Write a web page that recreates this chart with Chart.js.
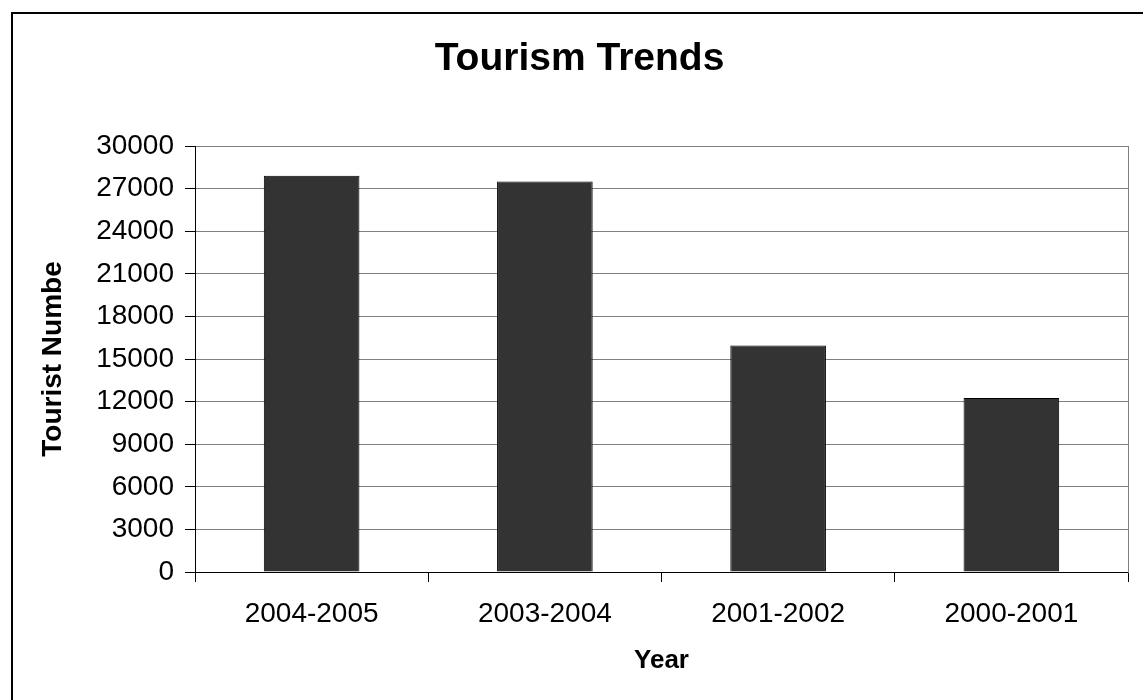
<!DOCTYPE html>
<html>
<head>
<meta charset="utf-8">
<script src="https://cdn.jsdelivr.net/npm/chart.js@4"></script>
<style>
  html, body { margin: 0; padding: 0; background: #fff; overflow: hidden; }
  #wrap { position: relative; width: 1143px; height: 700px; }
  #frame { position: absolute; left: 11px; top: 12px; width: 2000px; height: 2000px;
           border-top: 2px solid #000; border-left: 2px solid #000; box-sizing: border-box; }
  canvas { position: absolute; left: 0; top: 0; }
</style>
</head>
<body>
<div id="wrap">
  <div id="frame"></div>
  <canvas id="c" width="1143" height="700"></canvas>
</div>
<script>
const chartTitle = 'Tourism Trends';
const xTitle = 'Year';
const yTitle = 'Tourist Numbe';
const categories = ['2004-2005', '2003-2004', '2001-2002', '2000-2001'];
const touristNumbers = [27900, 27500, 15950, 12250];
const yMin = 0;
const yMax = 30000;
const yStep = 3000;

const FONT = '"Liberation Sans", Arial, sans-serif';

new Chart(document.getElementById('c'), {
  type: 'bar',
  data: {
    labels: categories,
    datasets: [{
      label: yTitle,
      data: touristNumbers,
      backgroundColor: '#333333',
      borderColor: '#000000',
      borderWidth: 1,
      barPercentage: 0.41,
      categoryPercentage: 1.0
    }]
  },
  options: {
    responsive: false,
    animation: false,
    devicePixelRatio: 1,
    layout: { padding: { left: 16, right: 0, top: 0, bottom: 0 } },
    plugins: {
      legend: { display: false },
      tooltip: { enabled: false },
      title: {
        display: true,
        text: chartTitle,
        color: '#000',
        font: { family: FONT, size: 39, weight: 'bold', lineHeight: 1.2 },
        padding: { top: 36, bottom: 63.2 }
      }
    },
    scales: {
      x: {
        grid: {
          offset: true,
          drawOnChartArea: false,
          drawTicks: true,
          tickLength: 10,
          tickColor: '#000',
          color: '#000'
        },
        border: { display: true, color: '#000', width: 1 },
        ticks: {
          color: '#000',
          padding: 15,
          maxRotation: 0,
          font: { family: FONT, size: 28 }
        },
        title: {
          display: true,
          text: xTitle,
          color: '#000',
          font: { family: FONT, size: 26, weight: 'bold', lineHeight: 1.2 },
          padding: { top: 0, bottom: 24 }
        },
        afterFit: (s) => { s.height = 128; }
      },
      y: {
        min: yMin,
        max: yMax,
        grid: {
          color: '#808080',
          tickColor: '#000',
          tickLength: 10,
          drawTicks: true
        },
        border: { display: true, color: '#000', width: 1 },
        ticks: {
          stepSize: yStep,
          color: '#000',
          padding: 11,
          font: { family: FONT, size: 28 },
          callback: (v) => String(v)
        },
        title: {
          display: true,
          text: yTitle,
          color: '#000',
          font: { family: FONT, size: 28, weight: 'bold', lineHeight: 1.2 },
          padding: { top: 20, bottom: 0 }
        },
        afterFit: (s) => { s.width = 179; }
      },
      yRight: {
        position: 'right',
        display: true,
        min: yMin,
        max: yMax,
        grid: { drawOnChartArea: false, drawTicks: false },
        border: { display: true, color: '#808080', width: 1 },
        ticks: { display: false },
        afterFit: (s) => { s.width = 15; }
      }
    }
  }
});
</script>
</body>
</html>
